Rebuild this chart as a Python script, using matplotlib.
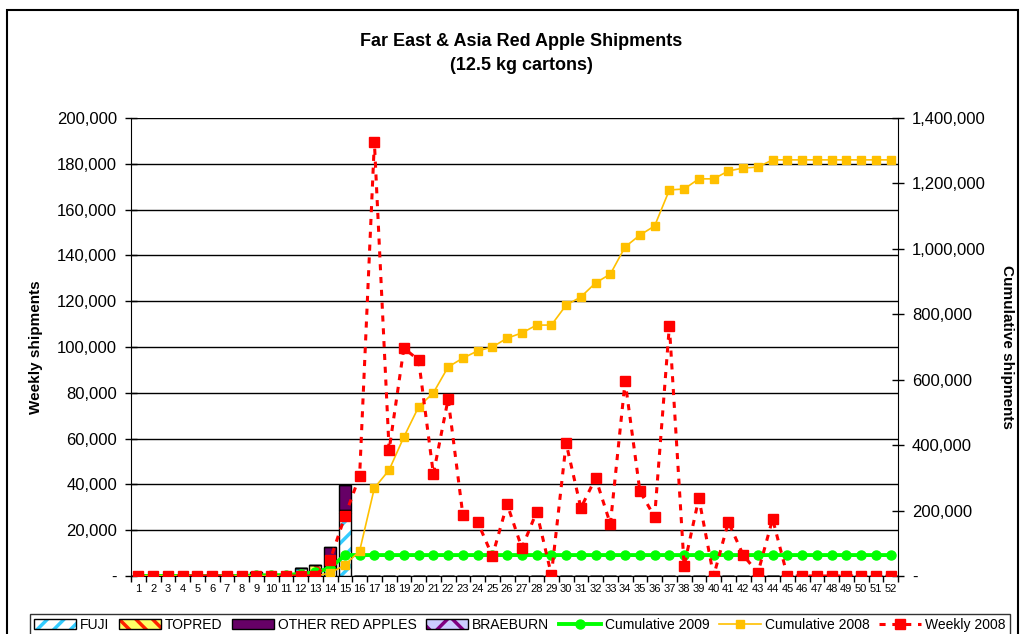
import matplotlib
matplotlib.use("Agg")
import matplotlib.pyplot as plt
from matplotlib.patches import Patch, Rectangle
from matplotlib.lines import Line2D
from matplotlib.ticker import FuncFormatter, FixedLocator
import numpy as np

plt.rcParams['font.family'] = ['Liberation Sans', 'DejaVu Sans']
plt.rcParams['hatch.linewidth'] = 2.5

weeks = list(range(1, 53))

fuji = [0]*8 + [1000, 0, 0, 3600, 1500, 3000, 27500] + [0]*37
topred = [0]*12 + [3500, 1500, 1300] + [0]*37
other_red = [0]*8 + [900, 500, 500, 0, 0, 8000, 10900] + [0]*37
braeburn = [0]*52

cum_2009 = [0]*8 + [1900, 2400, 2900, 6500, 11500, 24000, 64000] + [64000]*37

cum_2008 = [0]*13 + [9000, 33600, 76400, 269000, 324000, 425000, 517000, 560000,
                     639000, 666000, 688000, 700000, 727000, 743000, 767000, 767000,
                     828000, 853000, 896000, 923000, 1006000, 1042000, 1070000,
                     1180000, 1183000, 1214000, 1214000, 1238000, 1247000, 1250000,
                     1272000] + [1272000]*8

weekly_2008 = [0]*13 + [7000, 26000, 43700, 189500, 55000, 99500, 94300, 44500,
                        77300, 26600, 23600, 8700, 31400, 12200, 28000, 500,
                        58000, 29700, 42800, 22700, 85100, 37100, 25800, 109200,
                        4400, 34000, 0, 23600, 9200, 1300, 24900] + [0]*8

series_names = ["FUJI", "TOPRED", "OTHER RED APPLES", "BRAEBURN",
                "Cumulative 2009", "Cumulative 2008", "Weekly 2008"]

fig = plt.figure(figsize=(10.24, 6.34), dpi=100)
ax = fig.add_axes([131/1024, 1-576/634, (898-131)/1024, (576-118)/634])
ax2 = ax.twinx()
ax3 = ax.twinx()

x = np.array(weeks)
w = 0.8
bar_specs = [
    (fuji, 'white', '#33CCFF', '//'),
    (topred, '#FFFF66', '#FF2200', '\\\\'),
    (other_red, '#660066', '#660066', None),
    (braeburn, '#CCCCFF', '#800080', 'x'),
]
bottom = np.zeros(52)
legend_patches = []
for vals, fc, hc, hatch in bar_specs:
    v = np.array(vals, dtype=float)
    ax.bar(x, v, w, bottom=bottom, color=fc, edgecolor=hc, hatch=hatch, linewidth=0, zorder=2)
    ax.bar(x, v, w, bottom=bottom, fill=False, edgecolor='black', linewidth=1, zorder=3)
    bottom += v
    legend_patches.append((Patch(facecolor=fc, edgecolor=hc, hatch=hatch, linewidth=0),
                           Patch(fill=False, edgecolor='black', linewidth=1)))

l_c09, = ax2.plot(x, cum_2009, color='#00FF00', lw=2.8, marker='o', ms=6.5, zorder=4)
l_c08, = ax2.plot(x, cum_2008, color='#FFC000', lw=1.2, marker='s', ms=5.5, zorder=4)
l_w08, = ax3.plot(x, weekly_2008, color='#FF0000', lw=2.2, ls=(0, (2, 2.2)),
                  marker='s', ms=6.5, zorder=5)

ax.set_xlim(0.5, 52.5)
ax.set_ylim(0, 200000)
ax2.set_ylim(0, 1400000)
ax3.set_ylim(0, 200000)
ax.set_yticks(np.arange(0, 200001, 20000))
ax2.set_yticks(np.arange(0, 1400001, 200000))

fmt = FuncFormatter(lambda v, p: '-' if v == 0 else f"{int(v):,}")
ax.yaxis.set_major_formatter(fmt)
ax2.yaxis.set_major_formatter(fmt)

ax.xaxis.set_major_locator(FixedLocator(np.arange(0.5, 53, 1)))
ax.xaxis.set_major_formatter(FuncFormatter(lambda v, p: ''))
ax.xaxis.set_minor_locator(FixedLocator(x))
ax.set_xticklabels([str(wk) for wk in weeks], minor=True)
ax.tick_params(axis='x', which='major', direction='out', length=4, width=1)
ax.tick_params(axis='x', which='minor', length=0, labelsize=8, pad=6)
ax.tick_params(axis='y', direction='inout', length=8, width=1, labelsize=12, pad=6)
ax2.tick_params(axis='y', direction='inout', length=8, width=1, labelsize=12, pad=6)

ax.grid(axis='y', color='black', lw=1, zorder=0)
ax.set_axisbelow(True)
for a in (ax, ax2, ax3):
    a.spines['top'].set_visible(False)
ax3.set_yticks([])
for s in ax3.spines.values():
    s.set_visible(False)
ax2.spines['left'].set_visible(False)
ax2.spines['bottom'].set_visible(False)
ax.spines['right'].set_visible(False)

ax.set_ylabel("Weekly shipments", fontsize=11, fontweight='bold', labelpad=10)
ax2.set_ylabel("Cumulative shipments", fontsize=11, fontweight='bold',
               rotation=-90, labelpad=20)

fig.text(521/1024, 1-42/634, "Far East & Asia Red Apple Shipments",
         ha='center', va='center', fontsize=13, fontweight='bold')
fig.text(521/1024, 1-65/634, "(12.5 kg cartons)",
         ha='center', va='center', fontsize=13, fontweight='bold')

fig.patches.append(Rectangle((7/1024, -0.1), 1011/1024, 1.1 - 10/634,
                             transform=fig.transFigure, fill=False,
                             edgecolor='black', lw=1.5))

handles = legend_patches + [l_c09, l_c08, l_w08]
leg = fig.legend(handles, series_names, loc='upper left',
                 bbox_to_anchor=(30/1024, -0.2, 980/1024, 0.2 + 1 - 614/634),
                 mode='expand', ncol=7, fontsize=10, frameon=True, fancybox=False,
                 edgecolor='black', borderaxespad=0, handlelength=3,
                 handletextpad=0.3, columnspacing=0.8, borderpad=0.3)
leg.get_frame().set_linewidth(1)

fig.savefig("out.png", dpi=100)
